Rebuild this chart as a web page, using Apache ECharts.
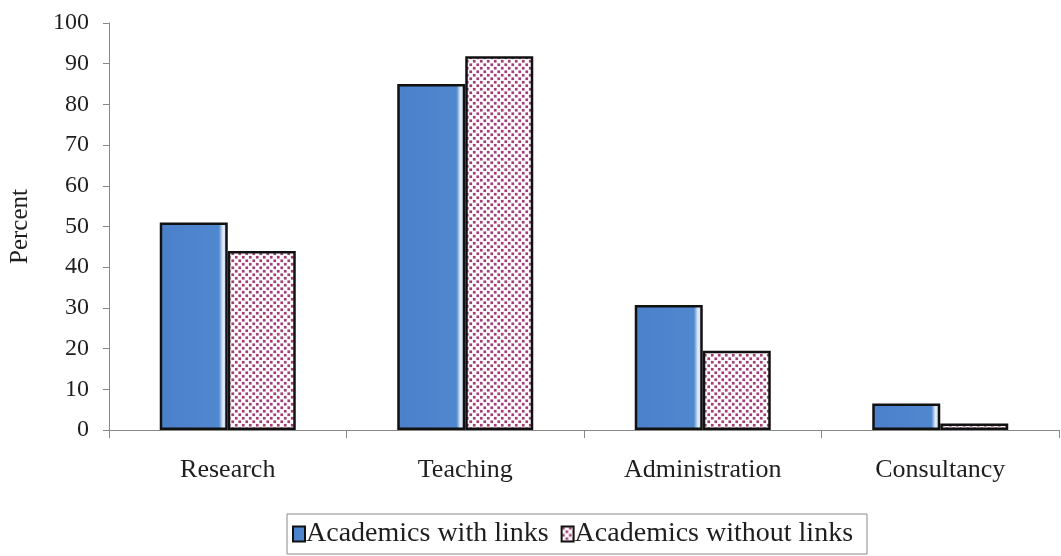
<!DOCTYPE html>
<html>
<head>
<meta charset="utf-8">
<script src="https://cdn.jsdelivr.net/npm/echarts@6/dist/echarts.min.js"></script>
<style>
  html, body { margin: 0; padding: 0; background: #ffffff; }
  #chart { width: 1061px; height: 556px; }
</style>
</head>
<body>
<div id="chart"></div>
<script>
// Share of academics' time spent on each activity
const categories = ['Research', 'Teaching', 'Administration', 'Consultancy'];
const withLinks = [51, 85, 30.7, 6.5];
const withoutLinks = [44, 91.8, 19.5, 1.6];
const yTicks = { min: 0, max: 100, step: 10 };
const seriesNames = ['Academics with links', 'Academics without links'];

// Dotted checker fill for the second series
function dotPattern() {
  const c = document.createElement('canvas');
  c.width = 7; c.height = 7;
  const g = c.getContext('2d');
  g.fillStyle = '#ffffff';
  g.fillRect(0, 0, 7, 7);
  g.fillStyle = '#a23c76';
  const s = 2.7;
  g.fillRect(0.4, 0.4, s, s);
  g.fillRect(3.9, 3.9, s, s);
  return c;
}

const blueFill = new echarts.graphic.LinearGradient(0, 0, 1, 0, [
  { offset: 0, color: '#5a8ed2' },
  { offset: 0.06, color: '#4b80ca' },
  { offset: 0.5, color: '#4e84cd' },
  { offset: 0.87, color: '#5088cf' },
  { offset: 0.93, color: '#e4edf9' },
  { offset: 1, color: '#bcd2ee' }
]);

const font = 'Liberation Serif';
const chart = echarts.init(document.getElementById('chart'), null, { renderer: 'canvas' });

chart.setOption({
  animation: false,
  backgroundColor: '#ffffff',
  grid: { left: 107, right: 2, top: 23, bottom: 126, containLabel: false },
  legend: {
    left: 287,
    top: 514,
    orient: 'horizontal',
    borderColor: '#8a8a8a',
    borderWidth: 1,
    padding: [6, 14, 6, 5],
    itemGap: 12,
    itemWidth: 12,
    itemHeight: 15,
    icon: 'rect',
    textStyle: { fontFamily: font, fontSize: 28, color: '#1e1e1e', padding: [0, 0, 0, -4] },
    data: seriesNames
  },
  xAxis: {
    type: 'category',
    data: categories,
    axisLine: { lineStyle: { color: '#888888', width: 1 } },
    axisTick: { show: true, length: 8, alignWithLabel: false, lineStyle: { color: '#888888' } },
    axisLabel: { fontFamily: font, fontSize: 26, color: '#1e1e1e', margin: 27 },
    splitLine: { show: false }
  },
  yAxis: {
    type: 'value',
    min: yTicks.min,
    max: yTicks.max,
    interval: yTicks.step,
    name: 'Percent',
    nameLocation: 'middle',
    nameRotate: 90,
    nameGap: 76,
    nameTextStyle: { fontFamily: font, fontSize: 25, color: '#1e1e1e' },
    axisLine: { show: true, lineStyle: { color: '#888888', width: 1 } },
    axisTick: { show: true, length: 6, lineStyle: { color: '#888888' } },
    axisLabel: { fontFamily: font, fontSize: 24, color: '#1e1e1e', margin: 20 },
    splitLine: { show: false }
  },
  series: [
    {
      name: seriesNames[0],
      type: 'bar',
      data: withLinks,
      barWidth: 68,
      barGap: '0%',
      itemStyle: { color: blueFill, borderColor: '#111111', borderWidth: 2.5 }
    },
    {
      name: seriesNames[1],
      type: 'bar',
      data: withoutLinks,
      barWidth: 68,
      barGap: '0%',
      itemStyle: { color: { image: dotPattern(), repeat: 'repeat' }, borderColor: '#111111', borderWidth: 2.5 }
    }
  ]
});
</script>
</body>
</html>
